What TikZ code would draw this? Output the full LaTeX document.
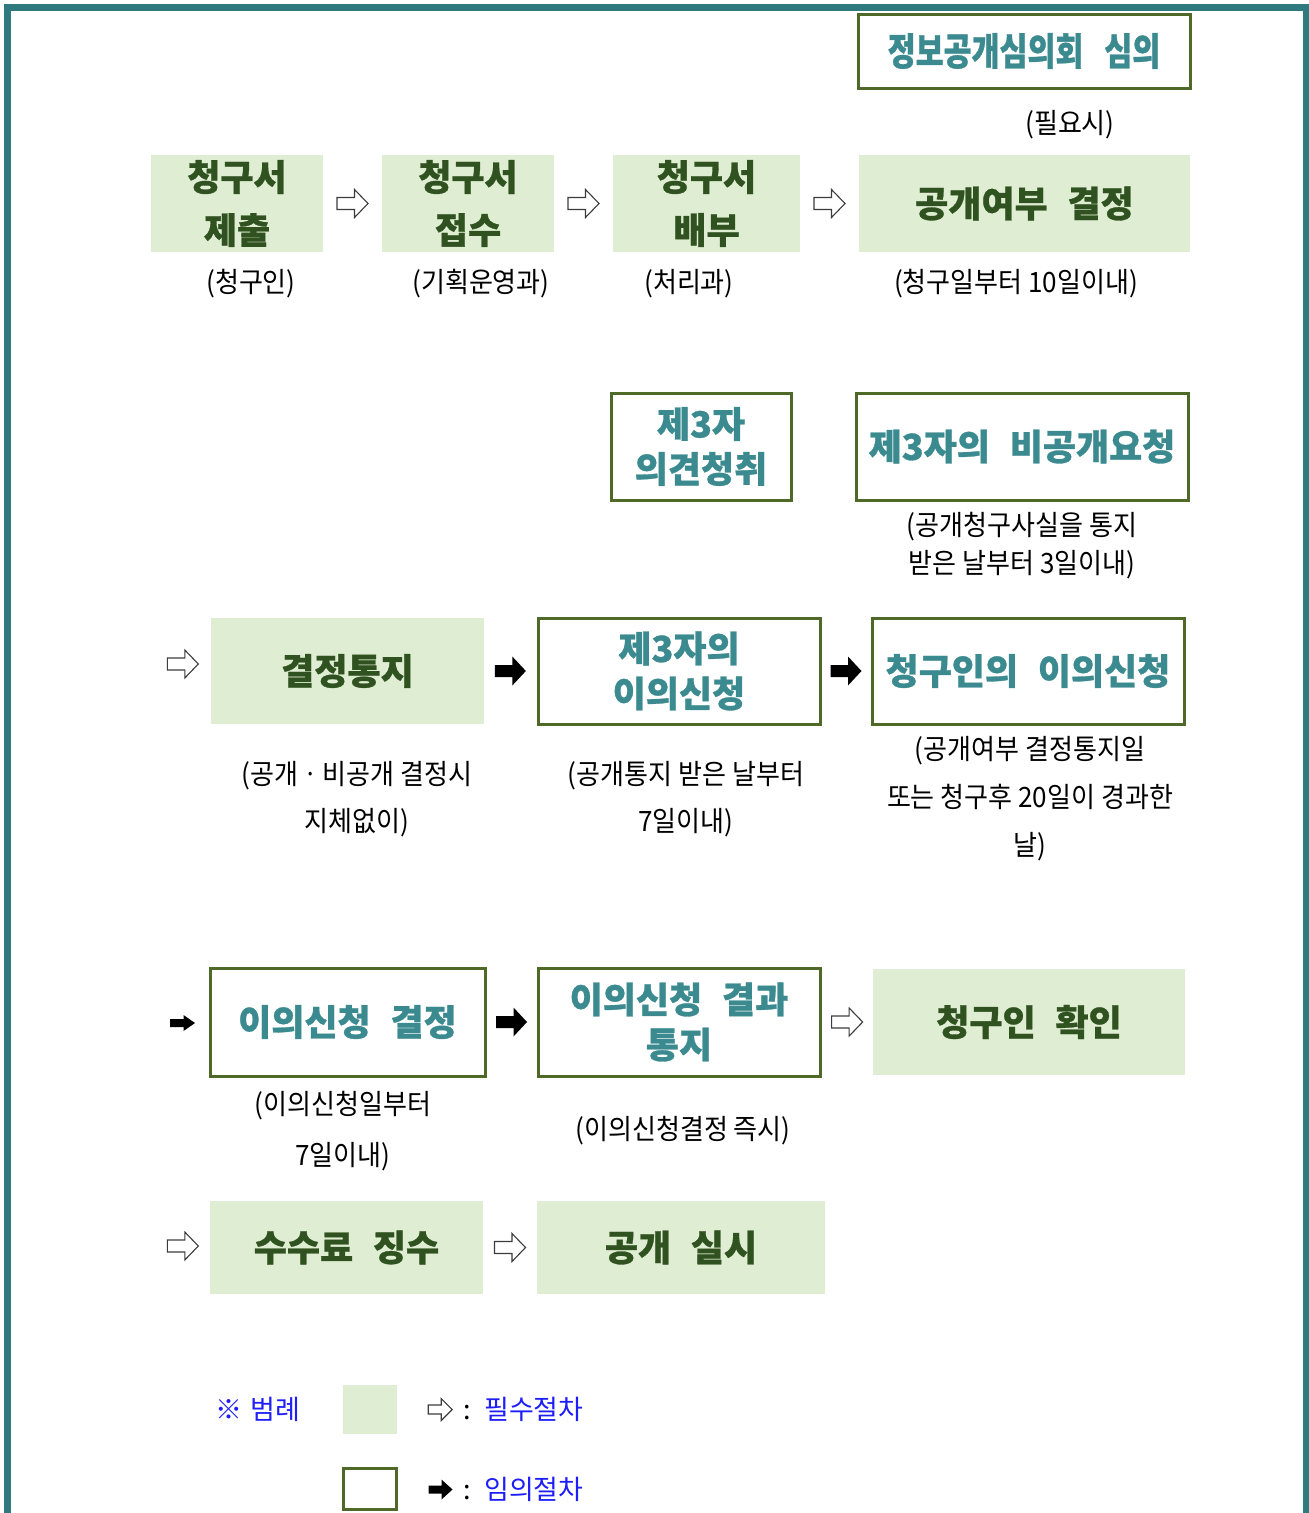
\documentclass[tikz,border=0pt]{standalone}
\usepackage{fontspec}
\setmainfont{Noto Sans CJK KR}
\newfontfamily\krnarrow{Noto Sans CJK KR}[FakeStretch=0.8, FakeBold=0.8]
\newfontfamily\krheavy{Noto Sans CJK KR}[FakeBold=0.8]
\newfontfamily\kranno{Noto Sans CJK KR}[FakeStretch=0.93]
\usetikzlibrary{calc}
\definecolor{frameteal}{RGB}{46,122,126}
\definecolor{boxline}{RGB}{79,106,40}
\definecolor{boxfill}{RGB}{223,237,211}
\definecolor{darktext}{RGB}{48,82,32}
\definecolor{tealtext}{RGB}{58,138,143}
\definecolor{legblue}{RGB}{30,30,250}
\definecolor{arrowgray}{RGB}{60,60,60}
\newcommand\wsp{\hspace{0.55em}}
% style, centre, half length, head base x, shaft half height, head half height
\newcommand\myblockarrow[6]{\begin{scope}[shift={#2}]\path[#1] (-#3,-#5)--(#4,-#5)--(#4,-#6)--(#3,0)--(#4,#6)--(#4,#5)--(-#3,#5)--cycle;\end{scope}}
\begin{document}
\begin{tikzpicture}[x=1pt,y=-1pt,
  fillbox/.style={rectangle, fill=boxfill, text=darktext, align=center, inner sep=0pt, font=\krheavy\fontsize{36}{45}\selectfont\bfseries},
  linebox/.style={rectangle, draw=boxline, line width=3pt, fill=white, text=tealtext, align=center, inner sep=0pt, font=\krheavy\fontsize{36}{45}\selectfont\bfseries},
  anno/.style={align=center, inner sep=0pt, font=\kranno\fontsize{28}{40}\selectfont},
  hollowA/.style={draw=arrowgray, fill=white, line width=1.1pt, line join=miter},
  solidA/.style={fill=black},
]
\useasboundingbox (0,0) rectangle (1309,1513);
\fill[white] (0,0) rectangle (1309,1513);
% outer frame (open at the bottom)
\draw[frameteal, line width=7pt] (7,1560) -- (7,7) -- (1306.5,7) -- (1306.5,1560);

% top: council
\node[linebox, minimum width=332pt, minimum height=74pt, font=\krnarrow\fontsize{38}{44}\selectfont\bfseries] (council) at (1024,51) {정보공개심의회\wsp 심의};
\node[anno] (needed) at (1070,125) {(필요시)};

% row 1
\node[fillbox, minimum width=172pt, minimum height=97pt, font=\krheavy\fontsize{36}{53}\selectfont\bfseries] (submit) at (237,203.5) {청구서\\제출};
\node[fillbox, minimum width=172pt, minimum height=97pt, font=\krheavy\fontsize{36}{53}\selectfont\bfseries] (receive) at (468,203.5) {청구서\\접수};
\node[fillbox, minimum width=187pt, minimum height=97pt, font=\krheavy\fontsize{36}{53}\selectfont\bfseries] (distribute) at (706.5,203.5) {청구서\\배부};
\node[fillbox, minimum width=331pt, minimum height=97pt] (decide) at (1024.5,203.5) {공개여부\wsp 결정};
\myblockarrow{hollowA}{($(submit.east)!0.5!(receive.west)$)}{15.5}{2}{6}{14}
\myblockarrow{hollowA}{($(receive.east)!0.5!(distribute.west)$)}{15.5}{2}{6}{14}
\myblockarrow{hollowA}{($(distribute.east)!0.5!(decide.west)$)}{15.5}{2}{6}{14}
\node[anno] (a1) at (251,284) {(청구인)};
\node[anno] (a2) at (481,284) {(기획운영과)};
\node[anno] (a3) at (689,284) {(처리과)};
\node[anno] (a4) at (1016,284) {(청구일부터 10일이내)};

% row 2
\node[linebox, minimum width=180pt, minimum height=107pt] (hear) at (701,446.5) {제3자\\의견청취};
\node[linebox, minimum width=332pt, minimum height=107pt] (nondisc) at (1022,446.5) {제3자의\wsp 비공개요청};
\node[anno, font=\kranno\fontsize{28}{38}\selectfont] (a5) at (1022,546) {(공개청구사실을 통지\\받은 날부터 3일이내)};

% row 3
\node[fillbox, minimum width=273pt, minimum height=106pt] (notice) at (347.5,671) {결정통지};
\node[linebox, minimum width=282pt, minimum height=106pt] (objthird) at (679,671) {제3자의\\이의신청};
\node[linebox, minimum width=312pt, minimum height=106pt] (objreq) at (1028,671) {청구인의\wsp 이의신청};
\myblockarrow{hollowA}{($(notice.west)+(-28,-7)$)}{15.5}{2}{6}{14}
\myblockarrow{solidA}{($(notice.east)!0.5!(objthird.west)$)}{15.5}{2}{6}{14.5}
\myblockarrow{solidA}{($(objthird.east)!0.5!(objreq.west)$)}{15.5}{2}{6}{14.5}
\node[anno, font=\kranno\fontsize{28}{47}\selectfont] (a6) at (357,799) {(공개ㆍ비공개 결정시\\지체없이)};
\node[anno, font=\kranno\fontsize{28}{47}\selectfont] (a7) at (686,799) {(공개통지 받은 날부터\\7일이내)};
\node[anno, font=\kranno\fontsize{28}{48}\selectfont] (a8) at (1030,799) {(공개여부 결정통지일\\또는 청구후 20일이 경과한\\날)};

% row 4
\node[linebox, minimum width=275pt, minimum height=108pt] (objdec) at (347.5,1022) {이의신청\wsp 결정};
\node[linebox, minimum width=282pt, minimum height=108pt] (objres) at (679,1022) {이의신청\wsp 결과\\통지};
\node[fillbox, minimum width=312pt, minimum height=106pt] (confirm) at (1029,1022) {청구인\wsp 확인};
\myblockarrow{solidA}{($(objdec.west)+(-26,1)$)}{12.5}{1}{4}{8}
\myblockarrow{solidA}{($(objdec.east)!0.5!(objres.west)$)}{15.5}{2}{6}{14.5}
\myblockarrow{hollowA}{($(objres.east)!0.5!(confirm.west)$)}{15.5}{2}{6}{14}
\node[anno, font=\kranno\fontsize{28}{51}\selectfont] (a9) at (343,1131) {(이의신청일부터\\7일이내)};
\node[anno] (a10) at (683,1131) {(이의신청결정 즉시)};

% row 5
\node[fillbox, minimum width=273pt, minimum height=93pt] (fee) at (346.5,1247.5) {수수료\wsp 징수};
\node[fillbox, minimum width=288pt, minimum height=93pt] (open) at (681,1247.5) {공개\wsp 실시};
\myblockarrow{hollowA}{($(fee.west)+(-27,-1.5)$)}{15.5}{2}{6}{14}
\myblockarrow{hollowA}{($(fee.east)!0.5!(open.west)$)}{15.5}{2}{6}{14}

% legend
\node[anchor=west, inner sep=0pt, text=legblue, font=\fontsize{27}{30}\selectfont] (legtitle) at (215,1409) {※\hspace{0.3em}범례};
\node[rectangle, fill=boxfill, minimum width=54pt, minimum height=49pt, inner sep=0pt] (legfill) at (370,1409.5) {};
\node[rectangle, draw=boxline, line width=3pt, fill=white, minimum width=53pt, minimum height=41pt, inner sep=0pt] (legline) at (369.5,1488.5) {};
\myblockarrow{hollowA}{($(legfill.east)+(43,0)$)}{12}{1}{4.5}{11}
\myblockarrow{solidA}{($(legline.east)+(43,1)$)}{12}{1}{4}{10}
\node[anchor=west, inner sep=0pt, font=\fontsize{27}{30}\selectfont] (legreq) at (463,1409) {:\hspace{0.5em}\textcolor{legblue}{필수절차}};
\node[anchor=west, inner sep=0pt, font=\fontsize{27}{30}\selectfont] (legopt) at (463,1489) {:\hspace{0.5em}\textcolor{legblue}{임의절차}};
\end{tikzpicture}
\end{document}
